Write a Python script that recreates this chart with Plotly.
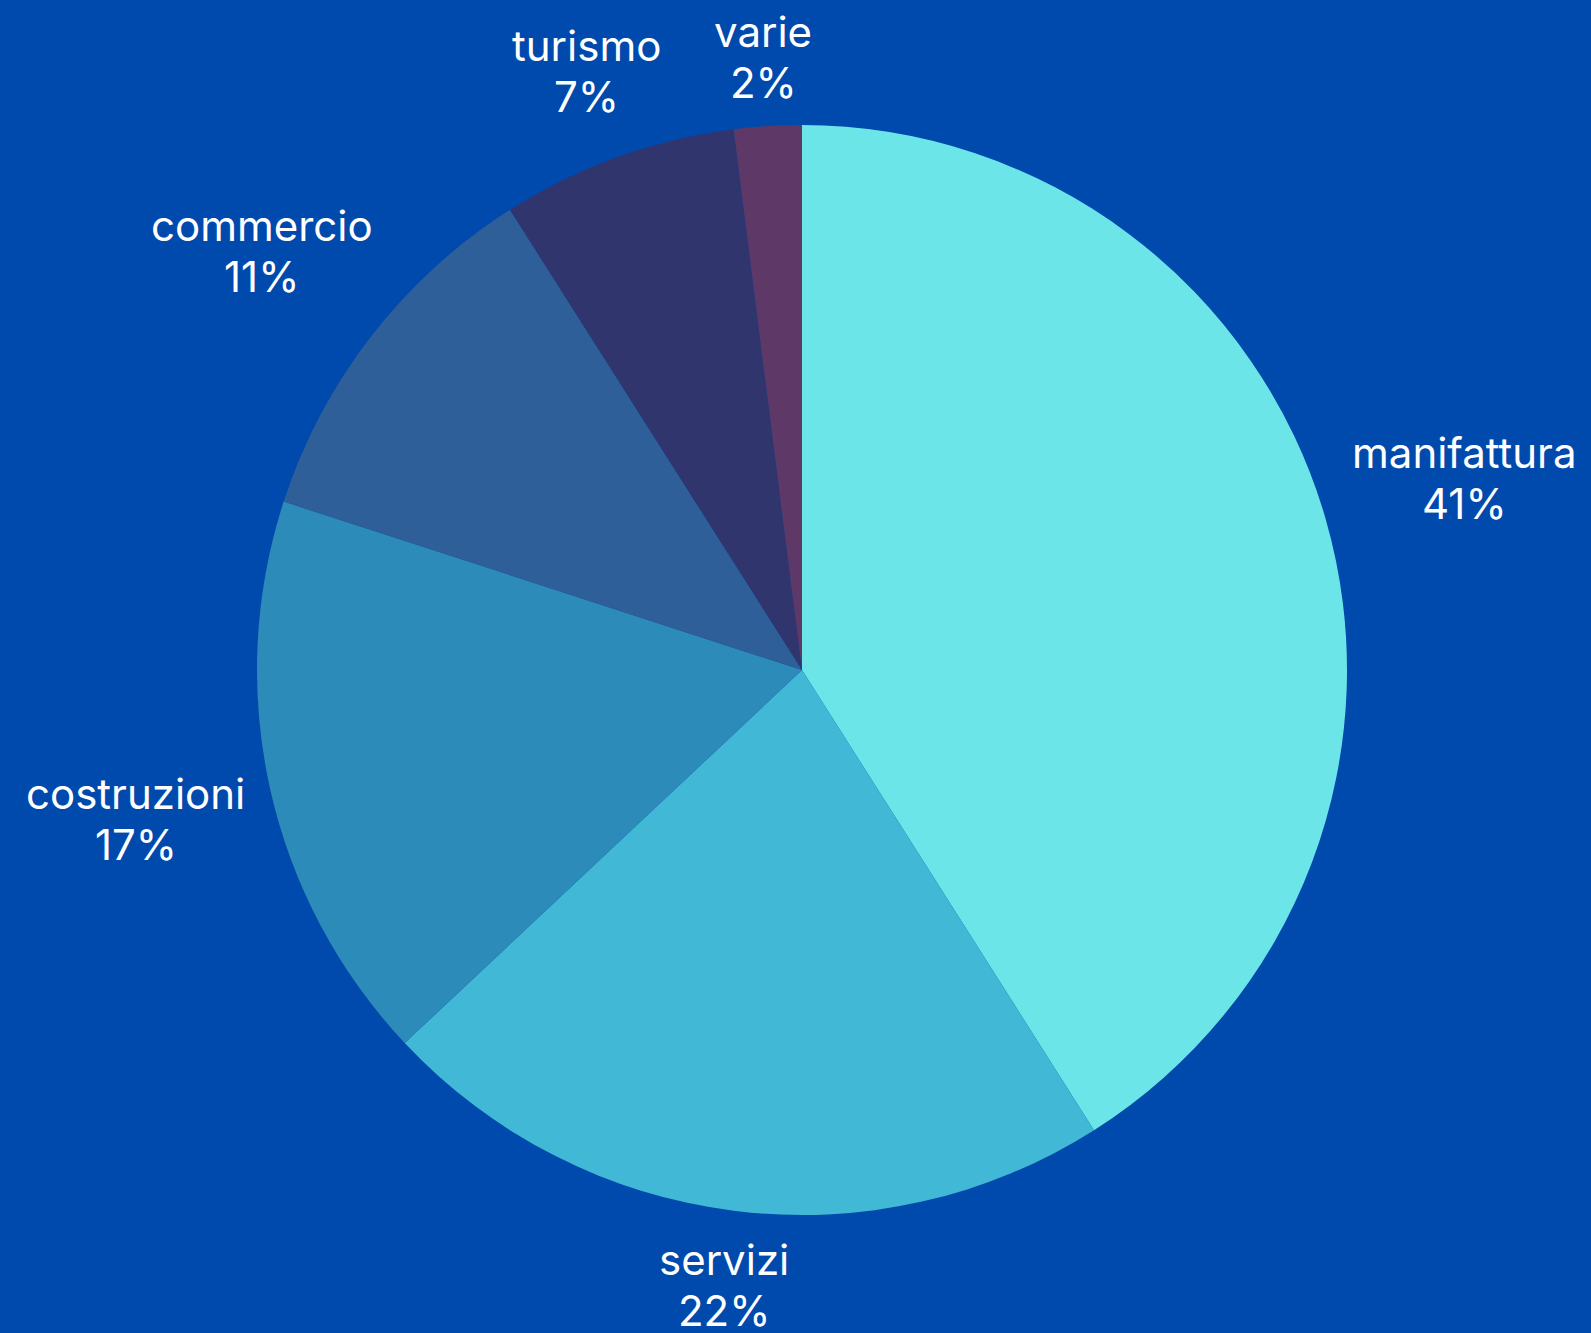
import math
import plotly.graph_objects as go

categories = ["manifattura", "servizi", "costruzioni", "commercio", "turismo", "varie"]
values = [41, 22, 17, 11, 7, 2]
colors = ["#6ce5e8", "#41b8d5", "#2d8bba", "#2f5f98", "#31356e", "#5e3967"]

W, H = 1591, 1333
CX, CY, R = 802, 670, 545          # pie centre / radius in px
FONT = 42
LINE = 51                           # px between the two label lines

# approximate Inter advance widths (em)
CW = {"a": .55, "b": .57, "c": .54, "d": .57, "e": .55, "f": .33, "g": .57, "h": .57,
      "i": .23, "j": .23, "k": .52, "l": .23, "m": .86, "n": .57, "o": .57, "p": .57,
      "q": .57, "r": .36, "s": .51, "t": .34, "u": .57, "v": .53, "w": .78, "x": .52,
      "y": .53, "z": .50, "%": .80}


def text_w(s):
    return sum(CW.get(ch, .60) for ch in s) * FONT


fig = go.Figure(go.Pie(
    labels=categories,
    values=values,
    sort=False,
    direction="clockwise",
    rotation=0,
    marker=dict(colors=colors, line=dict(width=0)),
    textinfo="none",
    showlegend=False,
    hoverinfo="skip",
    domain=dict(x=[(CX - R) / W, (CX + R) / W], y=[1 - (CY + R) / H, 1 - (CY - R) / H]),
))

total = sum(values)
cum = 0
annotations = []
for lab, v in zip(categories, values):
    mid = (cum + v / 2) / total * 2 * math.pi
    cum += v
    s, c = math.sin(mid), math.cos(mid)
    pct = f"{round(v / total * 100)}%"
    w = max(text_w(lab), text_w(pct))
    hh = 1.3 * FONT
    gap = 11 + 13 * abs(s)
    dist = R + gap + abs(s) * w / 2 + abs(c) * hh
    x = CX + dist * s
    y = CY - dist * c
    for txt, yy in ((lab, y - LINE / 2), (pct, y + LINE / 2)):
        annotations.append(dict(
            x=x / W, y=1 - yy / H, xref="paper", yref="paper",
            text=txt, showarrow=False,
            xanchor="center", yanchor="middle", align="center",
            font=dict(family="Inter", size=FONT, color="white"),
        ))

fig.update_layout(
    width=W,
    height=H,
    paper_bgcolor="#004aad",
    plot_bgcolor="#004aad",
    margin=dict(l=0, r=0, t=0, b=0),
    annotations=annotations,
)

fig.write_html(
    "out.html",
    config={"displayModeBar": False},
    post_script="document.body.style.margin='0';document.body.style.background='#004aad';",
)
